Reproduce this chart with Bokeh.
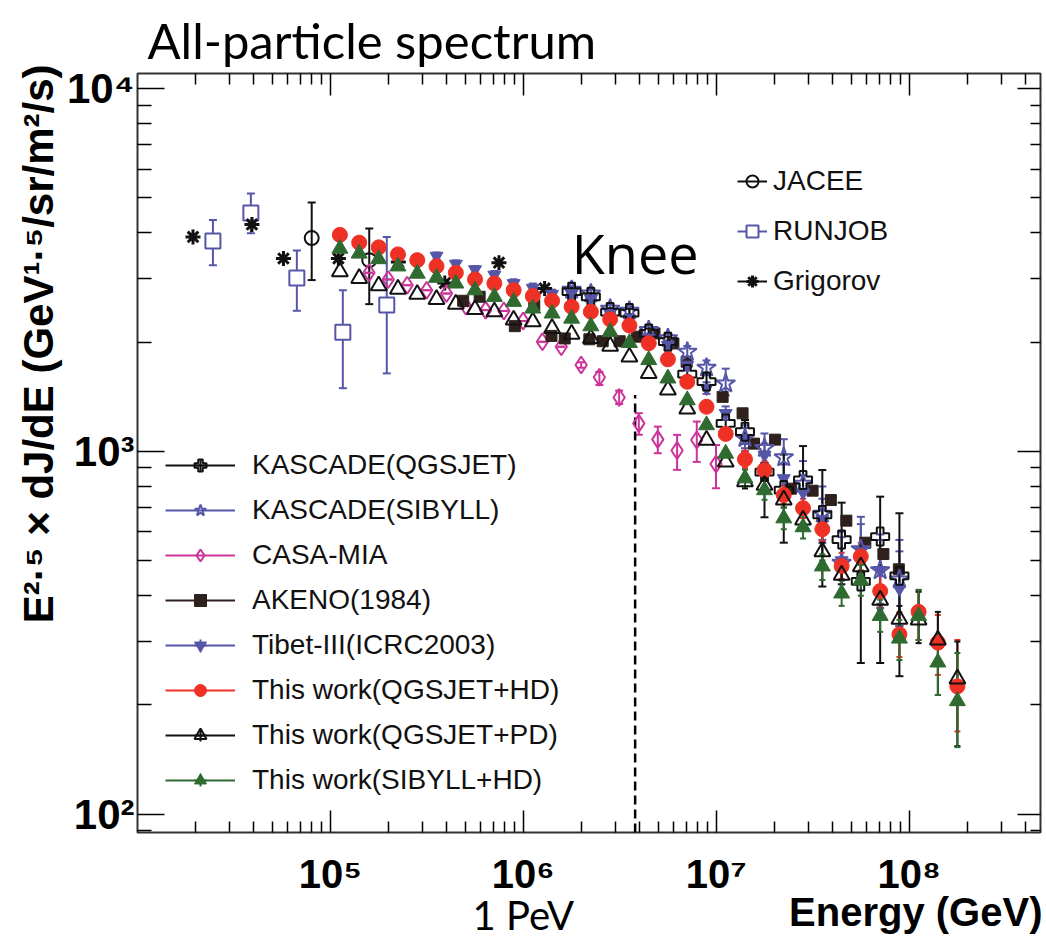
import math
from bokeh.plotting import figure
from bokeh.models import (Range1d, FixedTicker, LogAxis, CustomJSTickFormatter, Whisker, TeeHead,
                          ColumnDataSource, Legend, LegendItem, Label)
from bokeh.embed import file_html
from bokeh.resources import INLINE

# ---------------- data ----------------
x_ticks = [1e5, 1e6, 1e7, 1e8]
x_tick_labels = ["10⁵", "10⁶", "10⁷", "10⁸"]
y_ticks = [1e2, 1e3, 1e4]
y_tick_labels = ["10²", "10³", "10⁴"]
pev_tick = [1e6]
pev_label = ["1 PeV"]

jacee_E = [8.0e4, 1.59e5]
jacee_F = [3870, 3365]
jacee_lo = [2965, 2545]
jacee_hi = [4850, 4110]

runjob_E = [2.46e4, 3.87e4, 6.7e4, 1.16e5, 1.96e5]
runjob_F = [3800, 4540, 3006, 2130, 2530]
runjob_lo = [3260, 3990, 2440, 1493, 1640]
runjob_hi = [4340, 5140, 3575, 2780, 3900]

grigorov_E = [1.94e4, 3.92e4, 5.71e4, 1.10e5, 2.25e5, 3.92e5, 7.48e5, 1.29e6]
grigorov_F = [3900, 4220, 3400, 3400, 3325, 2910, 3310, 2812]

casa_E = [1.585e5, 1.995e5, 2.50e5, 3.155e5, 4.0e5, 5.04e5, 6.38e5, 7.93e5, 9.98e5, 1.256e6,
          1.574e6, 1.995e6, 2.48e6, 3.14e6, 3.97e6, 4.98e6, 6.27e6, 7.93e6, 9.98e6]
casa_F = [3106, 2977, 2870, 2780, 2723, 2512, 2450, 2437, 2286, 2004,
          1942, 1730, 1600, 1407, 1194, 1079, 1005, 1075, 923]
casa_lo = [3106, 2977, 2870, 2780, 2723, 2512, 2450, 2437, 2286, 2004,
           1942, 1700, 1523, 1350, 1111, 988, 889, 935, 791]
casa_hi = [3106, 2977, 2870, 2780, 2723, 2512, 2450, 2437, 2286, 2004,
           1942, 1760, 1655, 1470, 1274, 1170, 1110, 1208, 1041]

akeno_E = [4.88e5, 5.94e5, 9.04e5, 1.14e6, 1.40e6, 1.64e6, 2.20e6, 2.58e6, 3.16e6, 3.88e6,
           4.79e6, 6.0e6, 7.03e6, 1.08e7, 1.37e7, 1.57e7, 2.02e7, 2.44e7, 3.16e7, 3.93e7,
           4.73e7, 5.93e7, 7.36e7, 8.85e7]
akeno_F = [2600, 2667, 2213, 2530, 2080, 2047, 2036, 2011, 2011, 2070,
           2113, 1983, 1766, 1413, 1273, 1050, 1077, 789, 779, 734,
           644, 560, 521, 473]

kascade_E = [1.78e6, 2.24e6, 2.82e6, 3.55e6, 4.47e6, 5.62e6, 7.08e6, 8.91e6, 1.12e7, 1.41e7,
             1.78e7, 2.24e7, 2.82e7, 3.55e7, 4.47e7, 5.62e7, 7.08e7, 8.91e7]
kq_F = [2754, 2667, 2421, 2404, 2113, 2006, 1633, 1557, 1194, 1133,
        877, 782, 834, 668, 571, 438, 582, 454]
kq_lo = [2690, 2600, 2360, 2340, 2050, 1940, 1570, 1480, 1120, 1050,
         658, 560, 720, 424, 442, 261, 261, 240]
kq_hi = [2820, 2730, 2480, 2470, 2180, 2070, 1700, 1640, 1270, 1220,
         998, 980, 1034, 888, 722, 546, 750, 675]
ks_F = [2785, 2720, 2470, 2440, 2157, 2050, 1880, 1700, 1538, 1087,
        1020, 962, 813, 672, 493, 537, 470, 443]
ks_lo = [2720, 2650, 2400, 2370, 2090, 1980, 1810, 1620, 1427, 1000,
         930, 850, 700, 560, 400, 430, 370, 330]
ks_hi = [2850, 2790, 2540, 2510, 2230, 2120, 1950, 1780, 1690, 1180,
         1120, 1080, 940, 800, 600, 660, 590, 570]

tibet_E = [3.55e5, 4.47e5, 5.62e5, 7.08e5, 8.91e5, 1.12e6, 1.41e6, 1.78e6, 2.24e6, 2.82e6,
           3.55e6, 4.47e6, 5.62e6, 7.08e6, 8.91e6, 1.12e7, 1.41e7, 1.78e7, 2.24e7, 2.82e7,
           3.55e7, 4.47e7, 5.62e7, 7.08e7, 8.91e7]
tibet_F = [3453, 3283, 3170, 3063, 2903, 2818, 2713, 2720, 2630, 2400,
           2320, 2050, 1960, 1730, 1493, 1273, 1087, 977, 842, 770,
           650, 500, 530, 470, 418]
tibet_lo = [3380, 3210, 3100, 2990, 2830, 2740, 2640, 2650, 2560, 2330,
            2250, 1990, 1900, 1670, 1440, 1220, 1020, 910, 770, 690,
            570, 430, 440, 380, 330]
tibet_hi = [3530, 3360, 3240, 3140, 2980, 2900, 2790, 2790, 2700, 2470,
            2390, 2110, 2020, 1790, 1550, 1330, 1160, 1050, 920, 860,
            740, 580, 630, 570, 530]

work_E = [1.12e5, 1.41e5, 1.78e5, 2.24e5, 2.82e5, 3.55e5, 4.47e5, 5.62e5, 7.08e5, 8.91e5,
          1.12e6, 1.41e6, 1.78e6, 2.24e6, 2.82e6, 3.55e6, 4.47e6, 5.62e6, 7.08e6, 8.91e6,
          1.12e7, 1.41e7, 1.78e7, 2.24e7, 2.82e7, 3.55e7, 4.47e7, 5.62e7, 7.08e7, 8.91e7,
          1.12e8, 1.41e8, 1.78e8]
qhd_F = [3950, 3760, 3650, 3490, 3365, 3237, 3105, 2978, 2903, 2782,
         2679, 2601, 2503, 2425, 2311, 2222, 1986, 1793, 1555, 1327,
         1117, 951, 888, 758, 697, 610, 483, 513, 412, 313,
         361, 297, 225]
qpd_F = [3126, 2999, 2860, 2800, 2711, 2624, 2547, 2461, 2425, 2302,
         2276, 2183, 2105, 2047, 1950, 1820, 1641, 1476, 1309, 1074,
         935, 825, 807, 735, 647, 529, 456, 481, 389, 345,
         343, 302, 236]
shd_F = [3622, 3510, 3388, 3236, 3090, 3010, 2903, 2781, 2667, 2584,
         2477, 2400, 2323, 2213, 2135, 1990, 1786, 1589, 1384, 1181,
         986, 843, 782, 654, 618, 482, 406, 441, 352, 305,
         352, 262, 205]
# error bars of the last twelve points of each "This work" series
err_E = [1.41e7, 1.78e7, 2.24e7, 2.82e7, 3.55e7, 4.47e7, 5.62e7, 7.08e7, 8.91e7, 1.12e8, 1.41e8, 1.78e8]
qhd_lo = [900, 840, 715, 655, 565, 445, 470, 375, 271, 302, 242, 169]
qhd_hi = [1005, 940, 805, 740, 660, 525, 560, 455, 360, 415, 354, 302]
qpd_lo = [790, 770, 700, 615, 500, 430, 450, 365, 318, 296, 213, 154]
qpd_hi = [860, 845, 770, 680, 560, 485, 515, 415, 375, 410, 361, 299]
shd_lo = [800, 735, 610, 575, 442, 375, 400, 318, 266, 302, 213, 153]
shd_hi = [890, 830, 700, 665, 520, 440, 486, 390, 343, 415, 312, 278]

knee_E = 3.8e6
knee_top = 1430

# ---------------- colours ----------------
BLACK = "#111111"
BLUE = "#5656a8"
MAGENTA = "#cc3399"
BROWN = "#2e201c"
RED = "#ee3124"
GREEN = "#2f6b30"

# ---------------- figure ----------------
FL, FB = 137, 832  # frame left / bottom in canvas pixels
p = figure(width=1046, height=941, x_axis_type="log", y_axis_type="log",
           x_range=Range1d(1e4, 4.8e8), y_range=Range1d(89, 11000),
           output_backend="svg", toolbar_location=None,
           min_border_left=FL, min_border_right=6, min_border_top=73, min_border_bottom=941 - FB)
p.xgrid.visible = False
p.ygrid.visible = False
p.background_fill_color = "white"
p.border_fill_color = "white"
p.outline_line_color = "#333333"
p.outline_line_width = 2

p.title.text = "All-particle spectrum"
p.title.text_font = "Lato"
p.title.text_font_style = "normal"
p.title.text_font_size = "49px"
p.title.text_color = "black"
p.title.align = "left"
p.title.vertical_align = "top"
p.title.offset = 10
p.title.standoff = 6

x_minor = [m * 10 ** k for k in range(4, 9) for m in range(2, 10) if m * 10 ** k < 4.8e8]
y_minor = [m * 10 ** k for k in range(1, 5) for m in range(2, 10) if 89 < m * 10 ** k < 11000]

def fmt(tick_values, labels):
    return CustomJSTickFormatter(args=dict(tv=tick_values, lbl=labels), code="""
        for (let i = 0; i < tv.length; i++) {
            if (Math.abs(Math.log10(tv[i]) - Math.log10(tick)) < 1e-6) return lbl[i];
        }
        return "";
    """)

blank = CustomJSTickFormatter(code="return '';")

def style(ax, maj, mnr):
    ax.axis_line_color = None
    ax.major_tick_in = maj
    ax.major_tick_out = 0
    ax.minor_tick_in = mnr
    ax.minor_tick_out = 0
    ax.major_tick_line_color = "black"
    ax.minor_tick_line_color = "black"
    ax.major_tick_line_width = 1.5
    ax.minor_tick_line_width = 1.5

def text_only(ax):
    ax.axis_line_color = None
    ax.major_tick_line_color = None
    ax.minor_tick_line_color = None
    ax.major_tick_in = 0
    ax.major_tick_out = 0
    ax.minor_tick_in = 0
    ax.minor_tick_out = 0
    ax.major_label_text_color = "black"

xa = p.xaxis[0]
xa.ticker = FixedTicker(ticks=x_ticks, minor_ticks=x_minor)
xa.formatter = fmt(x_ticks, x_tick_labels)
style(xa, 22, 11)
xa.major_label_text_font = "Liberation Sans"
xa.major_label_text_font_style = "bold"
xa.major_label_text_font_size = "40px"
xa.major_label_text_color = "black"
xa.major_label_standoff = 19

# second text row below the x axis: "1 PeV" under 10^6 ...
xb = LogAxis(ticker=FixedTicker(ticks=pev_tick), formatter=fmt(pev_tick, pev_label))
text_only(xb)
xb.major_label_text_font = "Lato"
xb.major_label_text_font_size = "40px"
xb.major_label_standoff = -8
p.add_layout(xb, "below")

# ... and the x-axis title, right-aligned with the frame on the same row
x_title = ["Energy (GeV)"]
x_title_at = [1.083e8]  # energy under which the title is centred
xc = LogAxis(ticker=FixedTicker(ticks=x_title_at), formatter=fmt(x_title_at, x_title))
text_only(xc)
xc.major_label_text_font = "Liberation Sans"
xc.major_label_text_font_style = "bold"
xc.major_label_text_font_size = "40px"
xc.major_label_standoff = -52
p.add_layout(xc, "below")

ya = p.yaxis[0]
ya.ticker = FixedTicker(ticks=y_ticks, minor_ticks=y_minor)
ya.formatter = fmt(y_ticks, y_tick_labels)
style(ya, 27, 14)
ya.major_label_text_font = "Liberation Sans"
ya.major_label_text_font_style = "bold"
ya.major_label_text_font_size = "42px"
ya.major_label_text_color = "black"
ya.major_label_standoff = 3
# leading em-spaces lift the (centred) title so that it ends at the top of the frame
ya.axis_label = "\u2003" * 5 + "\u2009" + "E²·⁵ × dJ/dE (GeV¹·⁵/sr/m²/s)"
ya.axis_label_text_font = "Liberation Sans"
ya.axis_label_text_font_style = "bold"
ya.axis_label_text_font_size = "42px"
ya.axis_label_text_color = "black"
ya.axis_label_standoff = 2

top = LogAxis(ticker=FixedTicker(ticks=x_ticks, minor_ticks=x_minor), formatter=blank)
style(top, 22, 11)
top.major_label_standoff = -3
p.add_layout(top, "above")
right = LogAxis(ticker=FixedTicker(ticks=y_ticks, minor_ticks=y_minor), formatter=blank)
style(right, 23, 10)
right.major_label_standoff = 0
p.add_layout(right, "right")

# ---------------- error bars ----------------
def bars(E, lo, hi, color, head=8):
    src = ColumnDataSource(dict(x=E, lo=lo, hi=hi))
    w = Whisker(source=src, base="x", lower="lo", upper="hi", dimension="height",
                line_color=color, line_width=2,
                upper_head=TeeHead(size=head, line_color=color, line_width=2),
                lower_head=TeeHead(size=head, line_color=color, line_width=2))
    p.add_layout(w)

bars(jacee_E, jacee_lo, jacee_hi, BLACK)
bars(runjob_E, runjob_lo, runjob_hi, BLUE)
bars(casa_E, casa_lo, casa_hi, MAGENTA)
bars(tibet_E, tibet_lo, tibet_hi, BLUE)
bars(kascade_E, ks_lo, ks_hi, BLUE)
bars(kascade_E, kq_lo, kq_hi, BLACK)
bars(err_E, qhd_lo, qhd_hi, RED, 6)
bars(err_E, qpd_lo, qpd_hi, BLACK, 6)
bars(err_E, shd_lo, shd_hi, GREEN, 6)

# knee marker line
p.segment(x0=[knee_E], y0=[89], x1=[knee_E], y1=[knee_top], line_color="black",
          line_width=2.5, line_dash="9 5")

# ---------------- markers ----------------
r_jacee = p.scatter(jacee_E, jacee_F, marker="circle", size=14, fill_color=None, line_color=BLACK, line_width=2)
r_runjob = p.scatter(runjob_E, runjob_F, marker="square", size=15, fill_color="white", line_color=BLUE, line_width=2)
r_grig = p.scatter(grigorov_E, grigorov_F, marker="asterisk", size=15, line_color=BLACK, line_width=3)
r_casa = p.scatter(casa_E, casa_F, marker="diamond", size=17, fill_color=None, line_color=MAGENTA, line_width=2)
r_akeno = p.scatter(akeno_E, akeno_F, marker="square", size=11, fill_color=BROWN, line_color=BROWN)
r_tibet = p.scatter(tibet_E, tibet_F, marker="inverted_triangle", size=13, fill_color=BLUE, line_color=BLUE)
r_ks = p.scatter(kascade_E, ks_F, marker="star", size=20, fill_color=None, line_color=BLUE, line_width=2)
r_kq = p.scatter(kascade_E, kq_F, marker="plus", size=18, fill_color=None, line_color=BLACK, line_width=2)
r_qhd = p.scatter(work_E, qhd_F, marker="circle", size=15, fill_color=RED, line_color=RED)
r_qpd = p.scatter(work_E, qpd_F, marker="triangle", size=16, fill_color=None, line_color=BLACK, line_width=2)
r_shd = p.scatter(work_E, shd_F, marker="triangle", size=16, fill_color=GREEN, line_color=GREEN)

# ---------------- legends ----------------
NAN = [float("nan")]

def item(label, color, marker_r, err=False):
    rs = [p.line(x=NAN, y=NAN, line_color=color, line_width=2)]
    if err:
        rs.append(p.scatter(x=NAN, y=NAN, marker="cross", line_color=color, line_width=2))
    rs.append(marker_r)
    return LegendItem(label=label, renderers=rs)

leg2 = Legend(items=[
    item("KASCADE(QGSJET)", BLACK, r_kq, True),
    item("KASCADE(SIBYLL)", BLUE, r_ks),
    item("CASA-MIA", MAGENTA, r_casa),
    item("AKENO(1984)", BROWN, r_akeno),
    item("Tibet-III(ICRC2003)", BLUE, r_tibet, True),
    item("This work(QGSJET+HD)", RED, r_qhd, True),
    item("This work(QGSJET+PD)", BLACK, r_qpd, True),
    item("This work(SIBYLL+HD)", GREEN, r_shd, True),
], location=(28, 36), glyph_width=70, glyph_height=30, label_height=30, label_standoff=17,
    spacing=13, padding=0, margin=0, background_fill_alpha=0, border_line_alpha=0,
    label_text_font="Liberation Sans", label_text_font_size="28px", label_text_color=BLACK)
p.add_layout(leg2, "center")

leg1 = Legend(items=[
    item("JACEE", BLACK, r_jacee),
    item("RUNJOB", BLUE, r_runjob),
    item("Grigorov", BLACK, r_grig),
], location=(600, 535), glyph_width=30, glyph_height=30, label_height=30, label_standoff=6,
    spacing=18, padding=0, margin=0, background_fill_alpha=0, border_line_alpha=0,
    label_text_font="Liberation Sans", label_text_font_size="28px", label_text_color=BLACK)
p.add_layout(leg1, "center")

# ---------------- in-frame annotation ----------------
p.add_layout(Label(x=knee_E, y=FB - 252, x_units="data", y_units="screen", text="Knee",
                   text_font="Open Sans", text_font_size="54px", text_align="center",
                   text_baseline="alphabetic", text_color="black"))

open("out.html", "w").write(file_html(p, INLINE))
